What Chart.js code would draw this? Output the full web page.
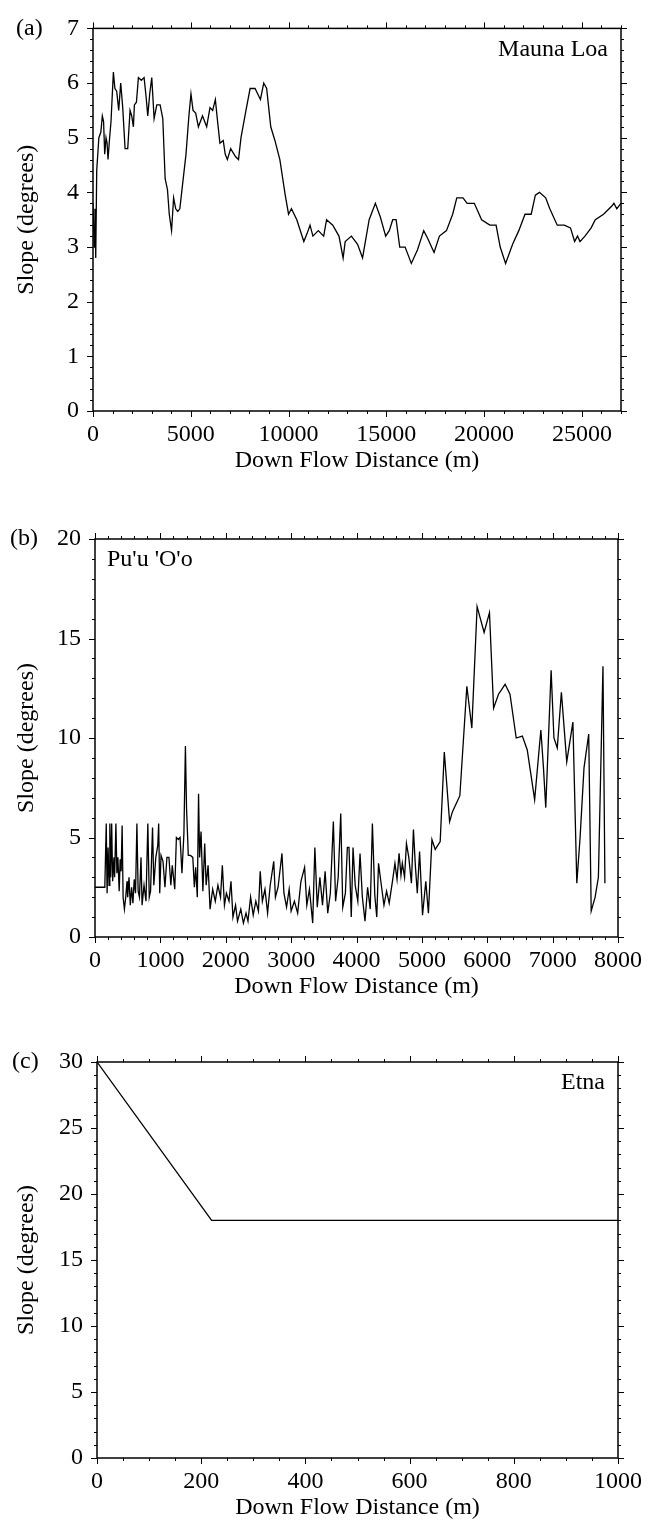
<!DOCTYPE html>
<html>
<head>
<meta charset="utf-8">
<script src="https://cdn.jsdelivr.net/npm/chart.js@4.4.1/dist/chart.umd.min.js"></script>
<style>
  html, body { margin: 0; padding: 0; background: #fff; }
  #wrap { position: relative; width: 651px; height: 1523px; background: #fff; }
  canvas { position: absolute; left: 0; }
</style>
</head>
<body>
<div id="wrap">
  <canvas id="chart_a" width="651" height="475" style="top:0px"></canvas>
  <canvas id="chart_b" width="651" height="492" style="top:509px"></canvas>
  <canvas id="chart_c" width="651" height="490" style="top:1032px"></canvas>
</div>
<script>
// (a) Mauna Loa
const mauna_dist = [0, 60, 100, 140, 190, 300, 400, 477, 540, 599, 666, 720, 768, 850, 922, 1042, 1120, 1212, 1315, 1417,
  1520, 1640, 1776, 1895, 1980, 2066, 2117, 2220, 2322, 2470, 2613, 2715, 2800, 2900, 3005, 3125, 3262, 3432, 3569, 3689,
  3808, 3900, 4017, 4122, 4230, 4334, 4440, 4566, 4756, 4904, 5010, 5116, 5250, 5390, 5600, 5813, 5982, 6120, 6257, 6370,
  6490, 6659, 6760, 6870, 7040, 7293, 7441, 7568, 7822, 8033, 8287, 8562, 8731, 8880, 9090, 9302, 9555, 9830, 10000, 10147,
  10422, 10781, 10950, 11098, 11246, 11521, 11796, 11944, 12261, 12578, 12790, 12896, 13213, 13530, 13784, 14122, 14439, 14693, 14967, 15150,
  15327, 15500, 15686, 15961, 16278, 16595, 16912, 17123, 17440, 17715, 18075, 18392, 18603, 18920, 19132, 19500, 19872, 20294, 20612, 20823,
  21098, 21457, 21774, 22091, 22408, 22620, 22831, 23148, 23360, 23740, 24100, 24417, 24628, 24776, 24903, 25157, 25474, 25685, 26108, 26531,
  26637, 26785, 27000]
const mauna_slope = [3.8, 3.0, 3.7, 2.8, 4.4, 5.0, 5.1, 5.4, 5.3, 4.7, 5.0, 4.9, 4.6, 5.0, 5.3, 6.2, 5.9, 5.85, 5.5, 6.0,
  5.55, 4.8, 4.8, 5.5, 5.4, 5.2, 5.6, 5.65, 6.1, 6.05, 6.1, 5.75, 5.4, 5.8, 6.1, 5.35, 5.6, 5.6, 5.35, 4.25,
  4.05, 3.6, 3.3, 3.9, 3.7, 3.65, 3.7, 4.1, 4.7, 5.4, 5.8, 5.5, 5.45, 5.2, 5.4, 5.2, 5.55, 5.5, 5.7, 5.3,
  4.9, 4.95, 4.7, 4.6, 4.8, 4.65, 4.6, 5.0, 5.5, 5.9, 5.9, 5.7, 6.0, 5.9, 5.2, 4.95, 4.6, 3.95, 3.6, 3.7,
  3.5, 3.1, 3.25, 3.4, 3.2, 3.3, 3.2, 3.5, 3.4, 3.2, 2.8, 3.1, 3.2, 3.05, 2.8, 3.5, 3.8, 3.55, 3.2, 3.3,
  3.5, 3.5, 3.0, 3.0, 2.7, 2.95, 3.3, 3.15, 2.9, 3.2, 3.3, 3.6, 3.9, 3.9, 3.8, 3.8, 3.5, 3.4, 3.4, 3.0,
  2.7, 3.05, 3.3, 3.6, 3.6, 3.95, 4.0, 3.9, 3.7, 3.4, 3.4, 3.35, 3.1, 3.2, 3.1, 3.2, 3.35, 3.5, 3.6, 3.75,
  3.8, 3.7, 3.8]
const mauna_x_ticks = [0, 5000, 10000, 15000, 20000, 25000]
const mauna_y_ticks = [0, 1, 2, 3, 4, 5, 6, 7]

// (b) Pu'u 'O'o
const puu_dist = [0, 150, 172, 185, 200, 215, 227, 240, 255, 270, 290, 300, 320, 335, 350, 370, 385, 400, 415, 430,
  450, 470, 490, 500, 520, 540, 560, 580, 600, 620, 641, 660, 680, 704, 720, 750, 780, 808, 830, 850,
  880, 900, 930, 960, 974, 990, 1010, 1040, 1070, 1100, 1131, 1160, 1182, 1220, 1245, 1275, 1301, 1330, 1360, 1383,
  1400, 1427, 1460, 1496, 1520, 1540, 1565, 1584, 1600, 1622, 1650, 1678, 1700, 1730, 1760, 1800, 1840, 1880, 1920, 1948,
  1980, 2010, 2050, 2080, 2110, 2150, 2180, 2230, 2270, 2310, 2340, 2380, 2420, 2460, 2500, 2527, 2560, 2600, 2640, 2680,
  2734, 2760, 2800, 2860, 2890, 2930, 2970, 3000, 3050, 3100, 3150, 3206, 3240, 3280, 3330, 3363, 3400, 3440, 3480, 3520,
  3560, 3600, 3646, 3680, 3720, 3759, 3790, 3830, 3860, 3885, 3920, 3947, 3980, 4020, 4054, 4090, 4130, 4170, 4210, 4243,
  4280, 4310, 4337, 4380, 4420, 4460, 4500, 4550, 4588, 4620, 4651, 4680, 4701, 4735, 4764, 4800, 4840, 4871, 4900, 4930,
  4965, 5010, 5060, 5100, 5154, 5204, 5280, 5343, 5424, 5468, 5581, 5688, 5764, 5845, 5952, 6034, 6097, 6172, 6273, 6348,
  6443, 6537, 6612, 6725, 6820, 6860, 6895, 6977, 7020, 7071, 7134, 7216, 7310, 7370, 7420, 7480, 7552, 7590, 7650, 7700,
  7740, 7770, 7800]
const puu_slope = [2.5, 2.5, 5.7, 2.2, 4.5, 2.6, 5.7, 3.0, 5.7, 2.8, 4.0, 3.0, 5.7, 3.2, 4.0, 2.3, 3.9, 3.3, 5.6, 2.0,
  1.4, 2.0, 2.8, 2.0, 3.0, 1.6, 2.5, 1.7, 2.9, 2.2, 5.7, 2.3, 2.0, 4.0, 1.6, 2.6, 1.8, 5.7, 2.0, 2.3,
  5.5, 2.6, 4.0, 4.6, 5.7, 2.2, 4.1, 3.8, 2.5, 4.0, 4.0, 2.6, 3.6, 2.4, 5.0, 4.9, 5.0, 3.2, 5.2, 9.6,
  6.5, 4.1, 4.1, 4.0, 2.5, 3.5, 2.0, 7.2, 4.0, 5.3, 2.3, 4.7, 2.6, 3.6, 1.4, 2.4, 1.8, 2.6, 2.0, 3.6,
  1.6, 2.2, 1.8, 2.8, 1.0, 1.6, 0.8, 1.4, 0.7, 1.2, 0.8, 2.0, 1.1, 1.8, 1.3, 3.3, 1.8, 2.4, 1.2, 2.6,
  3.8, 2.0, 2.5, 4.2, 2.2, 1.5, 2.4, 1.3, 1.8, 1.2, 2.8, 3.5, 1.6, 2.4, 0.7, 4.5, 1.5, 3.0, 1.6, 3.3,
  1.2, 2.2, 5.8, 1.8, 3.0, 6.2, 1.5, 2.2, 4.5, 4.5, 1.0, 4.5, 2.6, 1.8, 4.2, 2.0, 0.8, 2.5, 1.4, 5.7,
  2.1, 1.0, 3.7, 2.6, 1.6, 2.3, 1.7, 2.8, 3.7, 2.9, 4.2, 3.1, 3.7, 3.0, 4.7, 4.0, 2.7, 5.4, 3.6, 2.2,
  4.3, 1.1, 2.8, 1.2, 4.9, 4.4, 4.8, 9.3, 5.8, 6.3, 7.1, 12.6, 10.5, 16.6, 15.3, 16.3, 11.5, 12.2, 12.7, 12.2,
  10.0, 10.1, 9.4, 6.9, 10.4, 8.5, 6.5, 13.4, 10.0, 9.5, 12.3, 8.8, 10.8, 2.7, 5.0, 8.5, 10.2, 1.3, 2.0, 3.0,
  9.0, 13.6, 2.7]
const puu_x_ticks = [0, 1000, 2000, 3000, 4000, 5000, 6000, 7000, 8000]
const puu_y_ticks = [0, 5, 10, 15, 20]

// (c) Etna
const etna_dist = [0, 220, 1000]
const etna_slope = [30, 18, 18]
const etna_x_ticks = [0, 200, 400, 600, 800, 1000]
const etna_y_ticks = [0, 5, 10, 15, 20, 25, 30]

const FONT = { family: '"Liberation Serif", "Times New Roman", serif', size: 24 }

Chart.defaults.color = '#000'
Chart.defaults.font.family = FONT.family
Chart.defaults.font.size = FONT.size

function is_major(v, step) {
  let r = v / step
  return Math.abs(r - Math.round(r)) < 1e-6
}

// box round the plot, ticks on all four sides, panel letter and name
const frame_plugin = {
  id: 'frame',
  afterDraw(chart, args, opts) {
    const ctx = chart.ctx
    const area = chart.chartArea
    const xs = chart.scales.x
    const ys = chart.scales.y
    ctx.save()
    ctx.strokeStyle = '#000'
    ctx.lineWidth = 1
    ctx.beginPath()
    let nx = Math.round((xs.max - xs.min) / opts.xMinor)
    for (let i = 0; i <= nx; i++) {
      let v = xs.min + i * opts.xMinor
      let px = Math.round(xs.getPixelForValue(v)) + 0.5
      let len = is_major(v, opts.xMajor) ? 6 : 3
      ctx.moveTo(px, area.bottom); ctx.lineTo(px, area.bottom + len)
      ctx.moveTo(px, area.top); ctx.lineTo(px, area.top - len)
    }
    let ny = Math.round((ys.max - ys.min) / opts.yMinor)
    for (let i = 0; i <= ny; i++) {
      let v = ys.min + i * opts.yMinor
      let py = Math.round(ys.getPixelForValue(v)) + 0.5
      let len = is_major(v, opts.yMajor) ? 6 : 3
      ctx.moveTo(area.left, py); ctx.lineTo(area.left - len, py)
      ctx.moveTo(area.right, py); ctx.lineTo(area.right + len, py)
    }
    ctx.stroke()
    ctx.lineWidth = 1.5
    ctx.strokeRect(area.left, area.top, area.right - area.left, area.bottom - area.top)

    ctx.fillStyle = '#000'
    ctx.font = FONT.size + 'px ' + FONT.family
    ctx.textBaseline = 'middle'
    ctx.textAlign = 'left'
    ctx.fillText(opts.letter, opts.letterX, area.top)
    if (opts.nameAlign == 'right') {
      ctx.textAlign = 'right'
      ctx.fillText(opts.name, area.right - 13, area.top + 21)
    } else {
      ctx.textAlign = 'left'
      ctx.fillText(opts.name, area.left + 12, area.top + 21)
    }
    ctx.restore()
  }
}

function make_chart(id, dist, slope, s) {
  let points = []
  for (let i = 0; i < dist.length; i++) {
    points.push({ x: dist[i], y: slope[i] })
  }
  const config = {
    type: 'line',
    data: {
      datasets: [{
        data: points,
        borderColor: '#000',
        borderWidth: 1.3,
        pointRadius: 0,
        tension: 0,
        fill: false
      }]
    },
    options: {
      responsive: false,
      animation: false,
      devicePixelRatio: 1,
      layout: { padding: { left: 12, right: 651 - s.right, top: s.padTop, bottom: 0 } },
      plugins: {
        legend: { display: false },
        tooltip: { enabled: false },
        frame: s.frame
      },
      scales: {
        x: {
          type: 'linear',
          min: 0,
          max: s.xMax,
          grid: { display: false, drawTicks: false },
          border: { display: false },
          ticks: { autoSkip: false, maxRotation: 0, padding: 9, color: '#000', callback: v => String(v) },
          afterBuildTicks: sc => { sc.ticks = s.xTicks.map(v => ({ value: v })) },
          title: { display: true, text: 'Down Flow Distance (m)', padding: 0, color: '#000' },
          afterFit: sc => { sc.height = 64 }
        },
        y: {
          min: 0,
          max: s.yMax,
          grid: { display: false, drawTicks: false },
          border: { display: false },
          ticks: { padding: 14, color: '#000', callback: v => String(v) },
          afterBuildTicks: sc => { sc.ticks = s.yTicks.map(v => ({ value: v })) },
          title: { display: true, text: 'Slope (degrees)', padding: 0, color: '#000' },
          afterFit: sc => { sc.width = s.left - 12 }
        }
      }
    },
    plugins: [frame_plugin]
  }
  return new Chart(document.getElementById(id), config)
}

make_chart('chart_a', mauna_dist, mauna_slope, {
  left: 93, right: 621, padTop: 15, xMax: 27000, yMax: 7, xTicks: mauna_x_ticks, yTicks: mauna_y_ticks,
  frame: { xMinor: 1000, xMajor: 5000, yMinor: 0.2, yMajor: 1, letter: '(a)', letterX: 16, name: 'Mauna Loa', nameAlign: 'right' }
})
make_chart('chart_b', puu_dist, puu_slope, {
  left: 95, right: 622, padTop: 30, xMax: 8000, yMax: 20, xTicks: puu_x_ticks, yTicks: puu_y_ticks,
  frame: { xMinor: 200, xMajor: 1000, yMinor: 1, yMajor: 5, letter: '(b)', letterX: 10, name: "Pu'u 'O'o", nameAlign: 'left' }
})
make_chart('chart_c', etna_dist, etna_slope, {
  left: 97, right: 622, padTop: 30, xMax: 1000, yMax: 30, xTicks: etna_x_ticks, yTicks: etna_y_ticks,
  frame: { xMinor: 50, xMajor: 200, yMinor: 1, yMajor: 5, letter: '(c)', letterX: 12, name: 'Etna', nameAlign: 'right' }
})
</script>
</body>
</html>
